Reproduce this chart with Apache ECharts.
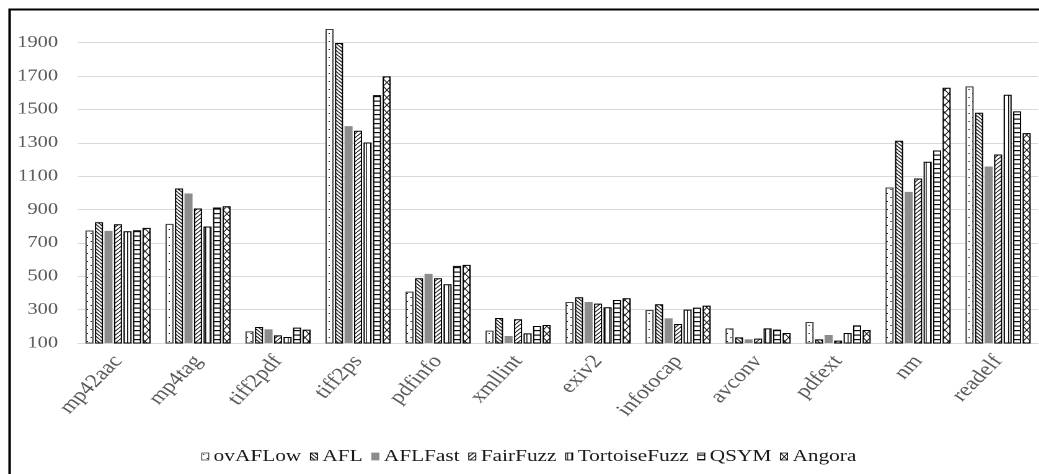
<!DOCTYPE html>
<html>
<head>
<meta charset="utf-8">
<script src="https://cdn.jsdelivr.net/npm/echarts@6/dist/echarts.min.js"></script>
<style>
html,body{margin:0;padding:0;background:#fff;overflow:hidden;}
#wrap{position:absolute;left:0;top:0;width:1039px;height:474px;overflow:hidden;}
#chart{position:absolute;left:0;top:0;height:474px;transform-origin:0 0;}
</style>
</head>
<body>
<div id="wrap"><div id="chart"></div></div>
<script>
// ---- data ----
const categories = ['mp42aac','mp4tag','tiff2pdf','tiff2ps','pdfinfo','xmllint','exiv2','infotocap','avconv','pdfext','nm','readelf'];
const seriesNames = ['ovAFLow','AFL','AFLFast','FairFuzz','TortoiseFuzz','QSYM','Angora'];
const ovAFLow      = [774, 814, 170, 1982, 408, 174, 346, 298, 188, 226, 1032, 1638];
const AFL          = [824, 1026, 196, 1898, 488, 250, 374, 332, 134, 122, 1312, 1480];
const AFLFast      = [772, 996, 182, 1400, 514, 142, 346, 248, 122, 148, 1006, 1158];
const FairFuzz     = [812, 906, 146, 1372, 488, 242, 336, 214, 126, 114, 1086, 1230];
const TortoiseFuzz = [770, 798, 136, 1302, 452, 158, 314, 300, 188, 160, 1186, 1588];
const QSYM         = [776, 912, 192, 1586, 562, 202, 358, 312, 180, 206, 1254, 1488];
const Angora       = [790, 920, 180, 1698, 568, 208, 368, 324, 160, 178, 1630, 1358];
const yMin = 100, yMax = 2000, yInterval = 200;

// ---- layout (reference is horizontally stretched) ----
const K = 1.24;
const W = 1039 / K;
const el = document.getElementById('chart');
el.style.width = W + 'px';
el.style.transform = 'scaleX(' + K + ')';

function pat(w, h, draw) {
  const c = document.createElement('canvas');
  c.width = Math.round(w * 2); c.height = Math.round(h * 2);
  const ctx = c.getContext('2d');
  ctx.scale(2, 2);
  ctx.fillStyle = '#fff'; ctx.fillRect(0, 0, w, h);
  ctx.strokeStyle = '#111'; ctx.fillStyle = '#111';
  draw(ctx, w, h);
  return { image: c, repeat: 'repeat', scaleX: 0.5, scaleY: 0.5 };
}
const pDots = pat(6, 8, (ctx) => { ctx.fillStyle = '#222'; ctx.fillRect(1, 1, 1, 1); ctx.fillRect(4, 5, 1, 1); });
const pBack = pat(3.5, 3.5, (ctx, w, h) => { ctx.lineWidth = 0.9; for (let x = -w; x <= w; x += w) { ctx.beginPath(); ctx.moveTo(x, 0); ctx.lineTo(x + w, h); ctx.stroke(); } });
const pFwd = pat(4, 4, (ctx, w, h) => { ctx.lineWidth = 0.8; for (let x = -w; x <= w; x += w) { ctx.beginPath(); ctx.moveTo(x, h); ctx.lineTo(x + w, 0); ctx.stroke(); } });
const pVert = pat(3.5, 2, (ctx) => { ctx.fillRect(1, 0, 0.8, 2); });
const pHorz = pat(2, 4.5, (ctx) => { ctx.fillRect(0, 1.5, 2, 1.2); });
const pCross = pat(6, 7.5, (ctx, w, h) => { ctx.lineWidth = 0.8; ctx.beginPath(); ctx.moveTo(0, 0); ctx.lineTo(w, h); ctx.moveTo(0, h); ctx.lineTo(w, 0); ctx.stroke(); });

const styles = [
  { color: pDots, borderColor: '#404040', borderWidth: 1 },
  { color: pBack, borderColor: '#000', borderWidth: 1 },
  { color: '#8c8c8c', borderColor: '#8c8c8c', borderWidth: 0 },
  { color: pFwd, borderColor: '#000', borderWidth: 1 },
  { color: pVert, borderColor: '#000', borderWidth: 1 },
  { color: pHorz, borderColor: '#000', borderWidth: 1 },
  { color: pCross, borderColor: '#000', borderWidth: 1 }
];
const values = [ovAFLow, AFL, AFLFast, FairFuzz, TortoiseFuzz, QSYM, Angora];

const FONT = '"Liberation Serif", "Times New Roman", serif';
const chart = echarts.init(el, null, { renderer: 'canvas', devicePixelRatio: 2 });
chart.setOption({
  animation: false,
  backgroundColor: '#fff',
  graphic: [{
    type: 'rect', left: 6.5 / K, top: 7,
    shape: { x: 0, y: 0, width: W + 20, height: 500 },
    style: { fill: 'none', stroke: '#000', lineWidth: 2 }
  }],
  grid: { left: 78 / K, right: W - 1038 / K, top: 26, bottom: 474 - 343, containLabel: false },
  legend: {
    data: seriesNames,
    icon: 'rect',
    left: 195 / K, top: 443,
    itemWidth: 7 / K, itemHeight: 7, itemGap: 7,
    itemStyle: { borderWidth: 0.8 },
    textStyle: { fontFamily: FONT, fontSize: 17.2, color: '#1a1a1a', padding: [0, 0, 0, -1] }
  },
  xAxis: {
    type: 'category', data: categories,
    axisTick: { show: false },
    axisLine: { lineStyle: { color: '#d9d9d9', width: 1 } },
    axisLabel: { rotate: 51, margin: 15, fontFamily: FONT, fontSize: 19, color: '#595959', interval: 0 }
  },
  yAxis: {
    type: 'value', min: yMin, max: yMax, interval: yInterval,
    axisLine: { show: false }, axisTick: { show: false },
    axisLabel: { showMaxLabel: false, margin: 16, fontFamily: FONT, fontSize: 16.5, color: '#595959',
      formatter: (v) => String(v) },
    splitLine: { showMaxLine: false, lineStyle: { color: '#d9d9d9', width: 1 } }
  },
  series: seriesNames.map((n, i) => ({
    name: n, type: 'bar', data: values[i],
    barWidth: 6.5, barGap: '18%',
    itemStyle: styles[i]
  }))
});
</script>
</body>
</html>
